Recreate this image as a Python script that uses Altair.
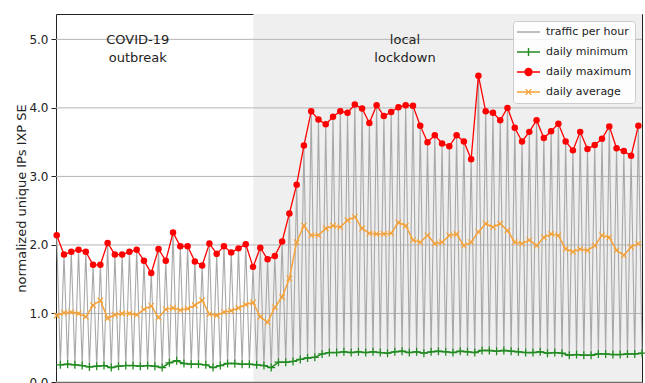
import altair as alt
import pandas as pd

# ---- values per day (day 0 = first day of the window) ----
DAYS = list(range(81))

DAILY_MAX = [
    2.14, 1.86, 1.90, 1.93, 1.90, 1.71, 1.71, 2.03, 1.86, 1.86,
    1.90, 1.93, 1.77, 1.59, 1.94, 1.77, 2.18, 1.98, 1.98, 1.76,
    1.70, 2.02, 1.87, 1.98, 1.89, 1.95, 2.01, 1.68, 1.96, 1.79,
    1.84, 2.05, 2.46, 2.88, 3.45, 3.95, 3.83, 3.76, 3.87, 3.95,
    3.93, 4.05, 3.99, 3.78, 4.04, 3.88, 3.94, 4.01, 4.04, 4.03,
    3.74, 3.50, 3.60, 3.48, 3.44, 3.60, 3.51, 3.25, 4.47, 3.95,
    3.93, 3.82, 4.00, 3.71, 3.51, 3.65, 3.82, 3.56, 3.66, 3.77,
    3.51, 3.38, 3.65, 3.40, 3.46, 3.55, 3.73, 3.41, 3.37, 3.30,
    3.74,
]

DAILY_MIN = [
    0.25, 0.26, 0.25, 0.24, 0.22, 0.23, 0.24, 0.21, 0.23, 0.24,
    0.24, 0.23, 0.24, 0.23, 0.21, 0.28, 0.31, 0.27, 0.26, 0.26,
    0.25, 0.21, 0.24, 0.27, 0.27, 0.26, 0.26, 0.25, 0.24, 0.21,
    0.29, 0.29, 0.30, 0.33, 0.35, 0.36, 0.41, 0.43, 0.43, 0.44,
    0.43, 0.44, 0.43, 0.44, 0.43, 0.42, 0.44, 0.45, 0.43, 0.44,
    0.42, 0.44, 0.45, 0.44, 0.43, 0.45, 0.44, 0.43, 0.46, 0.46,
    0.45, 0.46, 0.45, 0.44, 0.43, 0.43, 0.44, 0.42, 0.43, 0.42,
    0.39, 0.40, 0.39, 0.39, 0.41, 0.41, 0.40, 0.40, 0.41, 0.41,
    0.42,
]

DAILY_AVG = [
    0.97, 1.01, 1.02, 1.00, 0.95, 1.12, 1.19, 0.93, 0.98, 1.00,
    1.00, 0.98, 1.06, 1.11, 0.94, 1.06, 1.08, 1.05, 1.07, 1.12,
    1.19, 0.99, 0.97, 1.02, 1.04, 1.08, 1.13, 1.16, 0.95, 0.87,
    1.09, 1.24, 1.51, 2.04, 2.28, 2.14, 2.14, 2.24, 2.28, 2.26,
    2.36, 2.41, 2.24, 2.17, 2.16, 2.16, 2.17, 2.33, 2.28, 2.07,
    2.04, 2.14, 2.02, 2.04, 2.14, 2.16, 1.99, 2.04, 2.19, 2.31,
    2.26, 2.31, 2.21, 2.04, 2.02, 2.07, 1.99, 2.11, 2.16, 2.14,
    1.94, 1.90, 1.94, 1.92, 1.99, 2.14, 2.11, 1.92, 1.85, 1.97,
    2.02,
]

SERIES = ["traffic per hour", "daily minimum", "daily maximum", "daily average"]
SERIES_COLORS = ["#a8a8a8", "#228b22", "#ff0000", "#f5a33a"]

Y_TICKS = [0, 1, 2, 3, 4, 5]
X_TICKS = [6, 13, 20, 27, 34, 41, 48, 55, 62, 69, 76]
X_RANGE = [-0.1, 80.5]
Y_RANGE = [0, 5.37]

LOCKDOWN_START = 27.05
ANNOTATIONS = ["COVID-19\noutbreak", "local\nlockdown"]
ANNOTATION_DAYS = [11.15, 47.9]
ANNOTATION_Y = 5.08

# ---- tables ----
daily = pd.DataFrame({"day": DAYS, "max": DAILY_MAX, "min": DAILY_MIN, "avg": DAILY_AVG})
daily["min_t"] = daily["day"] + 0.5

# hourly curve: each day peaks at its maximum and falls to its minimum
traffic_t, traffic_v = [], []
for d, hi, lo in zip(DAYS, DAILY_MAX, DAILY_MIN):
    traffic_t += [d, d + 0.5]
    traffic_v += [hi, lo]
traffic = pd.DataFrame({"t": traffic_t, "v": traffic_v})

shade = pd.DataFrame({"start": [LOCKDOWN_START], "end": [X_RANGE[1]]})
grid = pd.DataFrame({"v": Y_TICKS})
notes = pd.DataFrame({"day": ANNOTATION_DAYS, "label": ANNOTATIONS, "y": [ANNOTATION_Y] * 2})

FONT = "DejaVu Sans"
INK = "#222222"

xs = alt.Scale(domain=X_RANGE, nice=False, zero=False)
ys = alt.Scale(domain=Y_RANGE, nice=False, zero=False)

x_axis = alt.Axis(values=X_TICKS, labels=False, grid=False, domain=False,
                  tickSize=5, tickColor=INK, title=None)
y_axis = alt.Axis(values=Y_TICKS, format=".1f", grid=False, domain=False,
                  tickSize=5, tickColor=INK, labelFont=FONT, labelFontSize=12,
                  labelColor=INK, labelPadding=3, labelFlush=False,
                  title="normalized unique IPs IXP SE", titleFont=FONT,
                  titleFontSize=13, titleFontWeight="normal", titleColor=INK,
                  titlePadding=0)

base_x = lambda f: alt.X(f, scale=xs, axis=x_axis)
base_y = lambda f: alt.Y(f, scale=ys, axis=y_axis)

shade_layer = alt.Chart(shade).mark_rect(color="#efefef").encode(
    x=base_x("start:Q"), x2="end:Q",
    y=alt.datum(Y_RANGE[0]), y2=alt.datum(Y_RANGE[1]),
)

grid_layer = alt.Chart(grid).mark_rule(color="#b4b4b4", strokeWidth=1).encode(
    y=base_y("v:Q"),
)

traffic_layer = alt.Chart(traffic).mark_line(color=SERIES_COLORS[0], strokeWidth=1.1).encode(
    x=base_x("t:Q"), y=base_y("v:Q"),
)

PLUS = "M-1,0L1,0M0,-1L0,1"
CROSS = "M-1,-1L1,1M-1,1L1,-1"

min_layer = alt.Chart(daily).mark_line(
    color=SERIES_COLORS[1], strokeWidth=1.5,
    point=alt.OverlayMarkDef(shape=PLUS, size=64, filled=False,
                             color=SERIES_COLORS[1], strokeWidth=1.3),
).encode(x=base_x("min_t:Q"), y=base_y("min:Q"))

max_layer = alt.Chart(daily).mark_line(
    color=SERIES_COLORS[2], strokeWidth=1.3,
    point=alt.OverlayMarkDef(filled=True, size=42, color=SERIES_COLORS[2], opacity=1),
).encode(x=base_x("day:Q"), y=base_y("max:Q"))

avg_layer = alt.Chart(daily).mark_line(
    color=SERIES_COLORS[3], strokeWidth=1.5,
    point=alt.OverlayMarkDef(shape=CROSS, size=30, filled=False,
                             color=SERIES_COLORS[3], strokeWidth=1.2),
).encode(x=base_x("day:Q"), y=base_y("avg:Q"))

note_layer = alt.Chart(notes).mark_text(
    align="center", baseline="top", font=FONT, fontSize=13, lineHeight=18,
    color=INK, lineBreak="\n",
).encode(x=base_x("day:Q"), y=base_y("y:Q"), text="label:N")

# legend symbols: line with the marker of each series
LEGEND_PATHS = [
    "M-1,0L1,0",
    "M-1,0L1,0M0,-0.35L0,0.35",
    "M-1,0L1,0M-0.3,0A0.3,0.3,0,1,1,0.3,0A0.3,0.3,0,1,1,-0.3,0Z",
    "M-1,0L1,0M-0.25,-0.25L0.25,0.25M-0.25,0.25L0.25,-0.25",
]

legend = alt.Legend(
    title=None, orient="top-right", offset=7, padding=3,
    fillColor="rgba(255,255,255,0.85)", strokeColor="#cccccc", cornerRadius=3,
    symbolSize=529, symbolStrokeWidth=1.4, clipHeight=16, rowPadding=4,
    symbolOpacity=1,
    labelFont=FONT, labelFontSize=11, labelColor=INK, labelOffset=5,
)

series_scale = alt.Scale(domain=SERIES, range=SERIES_COLORS)

legend_layer = alt.Chart(pd.DataFrame({"series": SERIES})).mark_point(
    filled=True, clip=True, opacity=1,
).encode(
    x=alt.value(-40), y=alt.value(-40),
    color=alt.Color("series:N", scale=series_scale, legend=legend),
    stroke=alt.Stroke("series:N", scale=series_scale, legend=legend),
    shape=alt.Shape("series:N", scale=alt.Scale(domain=SERIES, range=LEGEND_PATHS), legend=legend),
)

chart = alt.layer(
    shade_layer, grid_layer, traffic_layer, min_layer, max_layer, avg_layer,
    note_layer, legend_layer,
).properties(
    width=586, height=368,
    autosize=alt.AutoSizeParams(type="none"),
    padding={"left": 56, "top": 14, "right": 3, "bottom": 1},
    background="white",
).configure_view(stroke=INK, strokeWidth=1)

chart.save("out.html", embed_options={"renderer": "svg", "actions": False})
